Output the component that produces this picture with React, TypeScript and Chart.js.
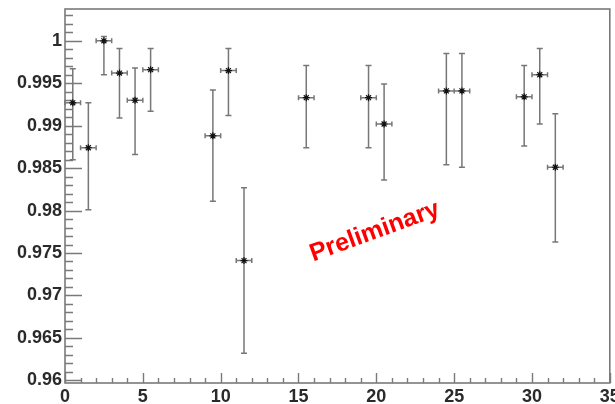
import React, { useEffect, useRef } from "react";
import { Chart, registerables } from "chart.js";

Chart.register(...registerables);

// Data
const xValues = [0.5, 1.5, 2.5, 3.5, 4.5, 5.5, 9.5, 10.5, 11.5, 15.5, 19.5, 20.5, 24.5, 25.5, 29.5, 30.5, 31.5];
const yValues = [0.9927, 0.9874, 1.0, 0.9962, 0.993, 0.9966, 0.9888, 0.9965, 0.9741, 0.9933, 0.9933, 0.9902, 0.9941, 0.9941, 0.9934, 0.996, 0.9851];
const yHigh = [0.9967, 0.9927, 1.0005, 0.9991, 0.9968, 0.9991, 0.9942, 0.9991, 0.9827, 0.9971, 0.9971, 0.9949, 0.9985, 0.9985, 0.9971, 0.9991, 0.9914];
const yLow = [0.986, 0.9801, 0.996, 0.9909, 0.9866, 0.9917, 0.9811, 0.9912, 0.9632, 0.9874, 0.9874, 0.9836, 0.9854, 0.9851, 0.9876, 0.9902, 0.9763];
const xErr = [0.5, 0.5, 0.5, 0.5, 0.5, 0.5, 0.5, 0.5, 0.5, 0.5, 0.5, 0.5, 0.5, 0.5, 0.5, 0.5, 0.5];

const xTicks = [0, 5, 10, 15, 20, 25, 30, 35];
const yTicks = [0.96, 0.965, 0.97, 0.975, 0.98, 0.985, 0.99, 0.995, 1.0];
const xMinorStep = 1;
const yMinorStep = 0.001;
const xRange = [0, 35];
const yRange = [0.95968, 1.00375];

const watermark = "Preliminary";
const watermarkPos = { x: 19.9, y: 0.9775 };

const FRAME = "#7a7a7a";
const FONT = "'Liberation Sans', Arial, sans-serif";

const rootPlugin = {
  id: "rootStyle",
  beforeDatasetsDraw(chart: any) {
    const { ctx, chartArea: a, scales } = chart;
    const xs = scales.x;
    const ys = scales.y;
    ctx.save();
    // frame
    ctx.strokeStyle = FRAME;
    ctx.lineWidth = 1.6;
    ctx.strokeRect(a.left, a.top, a.right - a.left, a.bottom - a.top);
    // y ticks (inside)
    ctx.lineWidth = 1.4;
    ctx.beginPath();
    const nY = Math.round((yRange[1] - yRange[0]) / yMinorStep) + 2;
    const yStart = Math.ceil(yRange[0] / yMinorStep - 1e-6) * yMinorStep;
    for (let i = 0; i < nY; i++) {
      const v = yStart + i * yMinorStep;
      if (v > yRange[1]) break;
      const major = yTicks.some((t) => Math.abs(t - v) < 1e-7);
      const py = Math.round(ys.getPixelForValue(v)) + 0.5;
      ctx.moveTo(a.left, py);
      ctx.lineTo(a.left + (major ? 17 : 8), py);
    }
    // x ticks (inside)
    for (let v = xRange[0]; v <= xRange[1] + 1e-9; v += xMinorStep) {
      const major = xTicks.some((t) => Math.abs(t - v) < 1e-7);
      const px = Math.round(xs.getPixelForValue(v)) + 0.5;
      ctx.moveTo(px, a.bottom);
      ctx.lineTo(px, a.bottom - (major ? 10 : 5));
    }
    ctx.stroke();

    // error bars
    ctx.strokeStyle = "#777777";
    ctx.lineWidth = 1.5;
    ctx.beginPath();
    for (let i = 0; i < xValues.length; i++) {
      const px = xs.getPixelForValue(xValues[i]);
      const py = ys.getPixelForValue(yValues[i]);
      const pt = ys.getPixelForValue(yHigh[i]);
      const pb = ys.getPixelForValue(yLow[i]);
      const pl = xs.getPixelForValue(xValues[i] - xErr[i]);
      const pr = xs.getPixelForValue(xValues[i] + xErr[i]);
      ctx.moveTo(px, pt);
      ctx.lineTo(px, pb);
      ctx.moveTo(px - 3, pt);
      ctx.lineTo(px + 3, pt);
      ctx.moveTo(px - 3, pb);
      ctx.lineTo(px + 3, pb);
      ctx.moveTo(pl, py);
      ctx.lineTo(pr, py);
      ctx.moveTo(pl, py - 2.5);
      ctx.lineTo(pl, py + 2.5);
      ctx.moveTo(pr, py - 2.5);
      ctx.lineTo(pr, py + 2.5);
    }
    ctx.stroke();
    ctx.restore();
  },
  afterDraw(chart: any) {
    const { ctx, scales } = chart;
    const px = scales.x.getPixelForValue(watermarkPos.x);
    const py = scales.y.getPixelForValue(watermarkPos.y);
    ctx.save();
    ctx.translate(px, py);
    ctx.rotate((-20 * Math.PI) / 180);
    ctx.font = `bold 25px ${FONT}`;
    ctx.fillStyle = "#ff0000";
    ctx.textAlign = "center";
    ctx.textBaseline = "middle";
    ctx.fillText(watermark, 0, 0);
    ctx.restore();
  },
};

export default function App() {
  const ref = useRef<HTMLCanvasElement | null>(null);
  useEffect(() => {
    if (!ref.current) return;
    const chart = new Chart(ref.current, {
      type: "scatter",
      data: {
        datasets: [
          {
            data: xValues.map((x, i) => ({ x, y: yValues[i] })),
            pointStyle: "star",
            pointRadius: 3.5,
            pointBorderColor: "#111",
            pointBackgroundColor: "#111",
            pointBorderWidth: 1.2,
            showLine: false,
          } as any,
        ],
      },
      options: {
        responsive: false,
        animation: false,
        events: [],
        layout: { padding: { left: 0, right: 3, top: 9, bottom: 0 } },
        plugins: { legend: { display: false }, tooltip: { enabled: false } },
        scales: {
          x: {
            type: "linear",
            min: xRange[0],
            max: xRange[1],
            grid: { display: false, drawTicks: false },
            border: { display: false },
            afterBuildTicks: (s: any) => {
              s.ticks = xTicks.map((v) => ({ value: v }));
            },
            afterFit: (s: any) => {
              s.height = 21;
              s.paddingLeft = 0;
              s.paddingRight = 0;
            },
            ticks: {
              padding: 3,
              color: "#2a2a2a",
              font: { family: FONT, size: 18, weight: "bold" },
              maxRotation: 0,
              autoSkip: false,
              callback: (v: any) => String(v),
            },
          },
          y: {
            type: "linear",
            min: yRange[0],
            max: yRange[1],
            grid: { display: false, drawTicks: false },
            border: { display: false },
            afterBuildTicks: (s: any) => {
              s.ticks = yTicks.map((v) => ({ value: v }));
            },
            afterFit: (s: any) => {
              s.width = 65;
              s.paddingTop = 0;
              s.paddingBottom = 0;
            },
            ticks: {
              padding: 3,
              color: "#2a2a2a",
              font: { family: FONT, size: 18, weight: "bold" },
              autoSkip: false,
              callback: (v: any) => String(parseFloat(Number(v).toFixed(3))),
            },
          },
        },
      },
      plugins: [rootPlugin],
    });
    return () => chart.destroy();
  }, []);
  return (
    <div style={{ position: "absolute", left: 0, top: 0, width: 615, height: 404, background: "#fff" }}>
      <canvas ref={ref} width={615} height={404} style={{ display: "block" }} />
    </div>
  );
}
